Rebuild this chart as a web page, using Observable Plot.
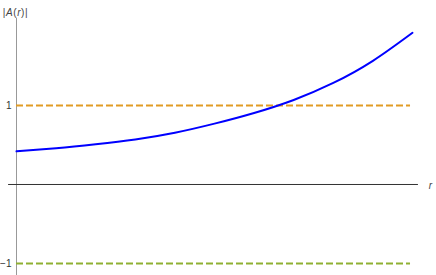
<!DOCTYPE html>
<html><head><meta charset="utf-8">
<script src="https://cdn.jsdelivr.net/npm/d3@7"></script>
<script src="https://cdn.jsdelivr.net/npm/@observablehq/plot@0.6"></script>
<style>body{margin:0;background:#fff;} svg{display:block;}</style>
</head><body><div id="chart"></div>
<script>
const rValues = [0, 0.1, 0.2, 0.3, 0.4, 0.5, 0.6, 0.7, 0.8, 0.9, 1.0];
const absA = [0.42, 0.46, 0.51, 0.57, 0.655, 0.77, 0.905, 1.07, 1.285, 1.565, 1.92];
const upperLevel = [1];
const lowerLevel = [-1];
const yTicks = [-1, 1];
const xLabel = "r";
const yLabel = "|A(r)|";
const yLabelItalic = ["A", "r"];

const curve = rValues.map((r, i) => ({r, a: absA[i]}));
const axisText = {fontFamily: "Liberation Sans, Arial, sans-serif", fontSize: 10, fill: "#444"};

const plot = Plot.plot({
  width: 436, height: 275,
  marginLeft: 16, marginRight: 24, marginTop: 18, marginBottom: 0,
  style: {fontFamily: "Liberation Sans, Arial, sans-serif", fontSize: "10px", background: "#fff", overflow: "visible"},
  x: {domain: [0, 1], axis: null, label: null},
  y: {domain: [-1.152, 2.101], axis: null, label: null},
  marks: [
    Plot.ruleX([0], {y1: -1.152, y2: 2.101, stroke: "#999", strokeWidth: 1}),
    Plot.ruleY([0], {x1: -0.02, x2: 1.015, stroke: "#333", strokeWidth: 1}),
    Plot.ruleY(yTicks, {y: d => d, x1: 0, x2: 0.013, stroke: "#333", strokeWidth: 1}),
    Plot.axisY({ticks: yTicks, label: null, tickSize: 0, tickPadding: 5, tickFormat: d => d < 0 ? "\u2212" + Math.abs(d) : String(d), fill: "#333", fontSize: 10}),
    Plot.ruleY(upperLevel, {y: d => d, x1: 0, x2: 0.995, stroke: "#E19C24", strokeWidth: 2, strokeDasharray: "7,3"}),
    Plot.ruleY(lowerLevel, {y: d => d, x1: 0, x2: 0.995, stroke: "#8FB032", strokeWidth: 2, strokeDasharray: "7,3"}),
    Plot.line(curve, {x: "r", y: "a", stroke: "#0000FF", strokeWidth: 2, curve: "natural"}),
    Plot.text([xLabel], {x: 1.045, y: 0, text: d => d, fontStyle: "italic", textAnchor: "middle", dy: 1, ...axisText}),
    Plot.text([yLabel], {frameAnchor: "top-left", text: d => d, textAnchor: "middle", dx: -1, dy: -10, ...axisText, className: "ylab"})
  ]
});
document.getElementById("chart").appendChild(plot);
// set A and r in italics inside the single label text
const t = plot.querySelector(".ylab text");
if (t) {
  const s = t.textContent;
  t.textContent = "";
  t.setAttribute("letter-spacing", "0.6");
  for (const ch of s) {
    const ts = document.createElementNS("http://www.w3.org/2000/svg", "tspan");
    ts.textContent = ch;
    if (yLabelItalic.includes(ch)) ts.setAttribute("font-style", "italic");
    t.appendChild(ts);
  }
}
</script></body></html>
